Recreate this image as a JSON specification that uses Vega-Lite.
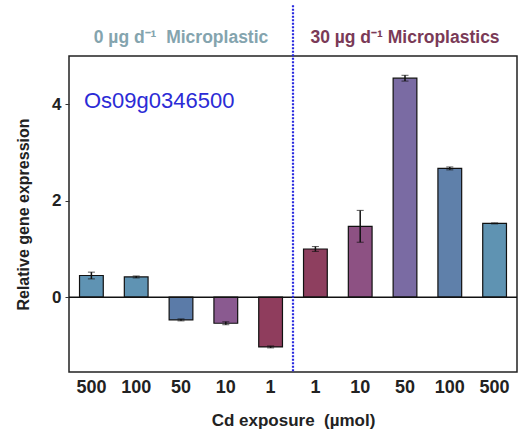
{
  "$schema": "https://vega.github.io/schema/vega-lite/v6.json",
  "autosize": {"type": "none"},
  "width": 448,
  "height": 316,
  "padding": {"left": 69, "top": 56, "right": 2, "bottom": 70},
  "background": "white",
  "config": {
    "font": "Liberation Sans",
    "view": {"stroke": "#222", "strokeWidth": 1.5}
  },
  "datasets": {
    "bars": [
      {"id": "L500", "group": "0 µg", "value": 0.45, "err": 0.07},
      {"id": "L100", "group": "0 µg", "value": 0.42, "err": 0.02},
      {"id": "L50", "group": "0 µg", "value": -0.47, "err": 0.02},
      {"id": "L10", "group": "0 µg", "value": -0.54, "err": 0.03},
      {"id": "L1", "group": "0 µg", "value": -1.03, "err": 0.02},
      {"id": "R1", "group": "30 µg", "value": 1.0, "err": 0.05},
      {"id": "R10", "group": "30 µg", "value": 1.47, "err": 0.33},
      {"id": "R50", "group": "30 µg", "value": 4.54, "err": 0.06},
      {"id": "R100", "group": "30 µg", "value": 2.67, "err": 0.03},
      {"id": "R500", "group": "30 µg", "value": 1.53, "err": 0.01}
    ],
    "groups": [
      {"id": "L50", "text": "0 µg d⁻¹ \u00a0Microplastic", "kind": "left"},
      {"id": "R50", "text": "30 µg d⁻¹ Microplastics", "kind": "right"}
    ]
  },
  "encoding": {
    "x": {
      "field": "id",
      "type": "nominal",
      "sort": ["L500", "L100", "L50", "L10", "L1", "R1", "R10", "R50", "R100", "R500"],
      "scale": {"paddingInner": 0, "paddingOuter": 0, "domain": ["L500", "L100", "L50", "L10", "L1", "R1", "R10", "R50", "R100", "R500"]},
      "axis": {
        "title": "Cd exposure \u00a0(µmol)",
        "labelExpr": "slice(datum.value, 1)",
        "labelAngle": 0,
        "labelFont": "Liberation Sans",
        "labelFontWeight": "bold",
        "labelFontSize": 18,
        "labelColor": "#222",
        "labelPadding": 6,
        "ticks": false,
        "domain": false,
        "titleFontSize": 17,
        "titleFontWeight": "bold",
        "titleColor": "#222",
        "titlePadding": 16
      }
    }
  },
  "layer": [
    {
      "data": {"name": "bars"},
      "mark": {"type": "bar", "width": {"band": 0.53}, "stroke": "#111", "strokeWidth": 1.2},
      "encoding": {
        "y": {
          "field": "value",
          "type": "quantitative",
          "scale": {"domain": [-1.55, 5], "nice": false, "zero": false},
          "title": "Relative gene expression",
          "axis": {
            "values": [0, 2, 4],
            "grid": false,
            "domain": false,
            "tickSize": 4,
            "tickColor": "#333",
            "labelFontWeight": "bold",
            "labelFontSize": 17,
            "labelColor": "#222",
            "labelPadding": 4,
            "titleFontSize": 16,
            "titleFontWeight": "bold",
            "titleColor": "#222",
            "titlePadding": 20
          }
        },
        "color": {
          "field": "id",
          "type": "nominal",
          "scale": {
            "domain": ["L500", "L100", "L50", "L10", "L1", "R1", "R10", "R50", "R100", "R500"],
            "range": ["#5f93b3", "#5f93b3", "#5b7ba8", "#8a5a90", "#8f3d5d", "#8e3f5f", "#8d5183", "#7a6ba3", "#5f80aa", "#5f93b2"]
          },
          "legend": null
        }
      }
    },
    {
      "data": {"name": "bars"},
      "mark": {"type": "errorbar", "ticks": {"size": 7, "color": "#111"}, "rule": {"color": "#111", "strokeWidth": 1.5}},
      "encoding": {
        "y": {"field": "value", "type": "quantitative", "title": "Relative gene expression"},
        "yError": {"field": "err"}
      }
    },
    {
      "data": {"values": [{"v": 0}]},
      "mark": {"type": "rule", "color": "#111", "strokeWidth": 1.5},
      "encoding": {"y": {"field": "v", "type": "quantitative", "title": "Relative gene expression"}, "x": null}
    },
    {
      "data": {"values": [{"id": "L1", "top": 6.05, "bottom": -1.55}]},
      "mark": {"type": "rule", "color": "#2a2ae0", "strokeWidth": 2.2, "strokeDash": [2, 1.5]},
      "encoding": {
        "x": {"field": "id", "type": "nominal", "bandPosition": 1},
        "y": {"field": "top", "type": "quantitative", "title": "Relative gene expression"},
        "y2": {"field": "bottom"}
      }
    },
    {
      "data": {"name": "groups"},
      "mark": {"type": "text", "fontSize": 17.5, "fontWeight": "bold", "baseline": "middle"},
      "encoding": {
        "x": {"field": "id", "type": "nominal", "bandPosition": 0.5},
        "y": {"datum": 5.37, "type": "quantitative"},
        "text": {"field": "text"},
        "color": {"field": "kind", "type": "nominal", "scale": {"domain": ["left", "right"], "range": ["#84a4ae", "#7a3a57"]}, "legend": null}
      }
    },
    {
      "data": {"values": [{"id": "L500", "name": "Os09g0346500"}]},
      "mark": {"type": "text", "fontSize": 22, "color": "#2b2bd6", "align": "left", "baseline": "middle", "dx": 15},
      "encoding": {
        "x": {"field": "id", "type": "nominal", "bandPosition": 0},
        "y": {"datum": 4.07, "type": "quantitative"},
        "text": {"field": "name"}
      }
    }
  ],
  "resolve": {"scale": {"color": "independent"}}
}
